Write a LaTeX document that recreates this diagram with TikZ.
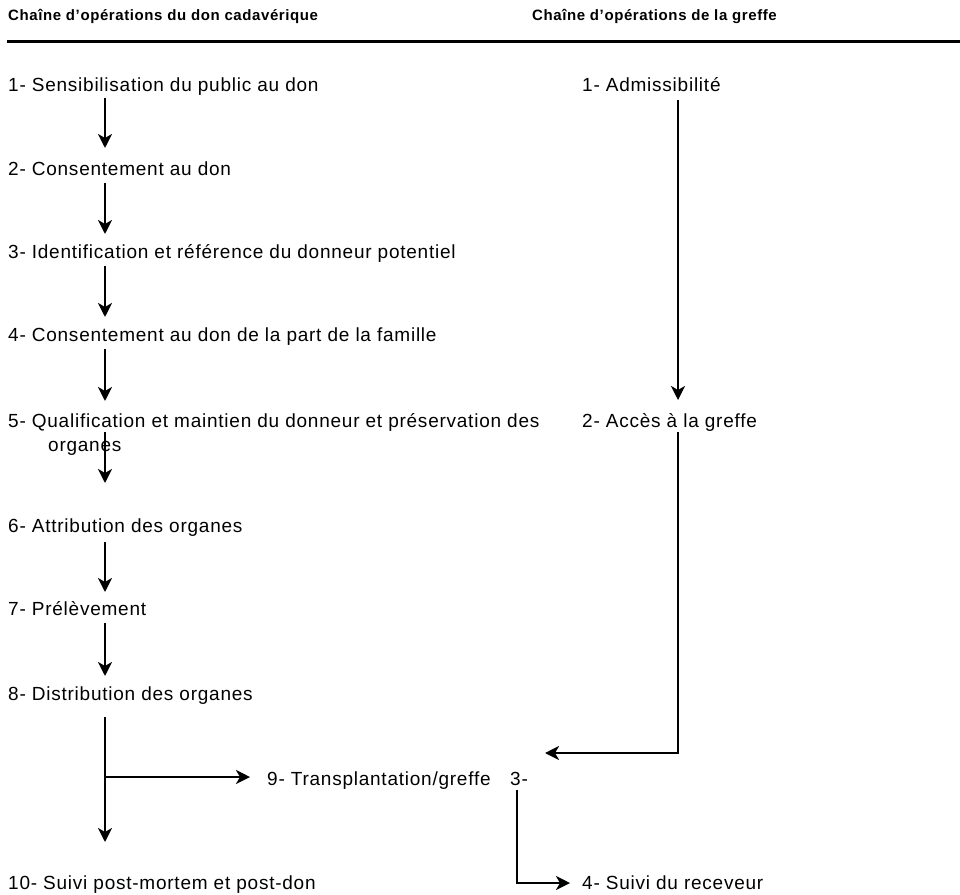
\documentclass[tikz,border=0pt]{standalone}
\usepackage{fontspec}
\setmainfont[LetterSpace=4]{Liberation Sans}
\usetikzlibrary{arrows.meta}
\begin{document}
\begin{tikzpicture}[x=1pt,y=-1pt,
  txt/.style={anchor=base west,inner sep=0pt,font=\fontsize{19}{22}\selectfont},
  hdr/.style={anchor=base west,inner sep=0pt,font=\fontsize{15}{18}\selectfont\bfseries},
  arr/.style={line width=2.5pt,-{Stealth[length=14pt,width=14pt,inset=4pt]}},
  ln/.style={line width=2.5pt}]
\useasboundingbox (0,0) rectangle (960,894);
\node[hdr] (h1) at (8,20) {Chaîne d’opérations du don cadavérique};
\node[hdr] (h2) at (532,20) {Chaîne d’opérations de la greffe};
\coordinate (hl) at (7,41);
\coordinate (hr) at (960,41);
\draw[line width=3pt] (hl) -- (hr);
% left column
\node[txt] (t1) at (8,91) {1- Sensibilisation du public au don};
\node[txt] (t2) at (8,175) {2- Consentement au don};
\node[txt] (t3) at (8,258) {3- Identification et référence du donneur potentiel};
\node[txt] (t4) at (8,341) {4- Consentement au don de la part de la famille};
\node[txt] (t5) at (8,427) {5- Qualification et maintien du donneur et préservation des};
\node[txt] (t5b) at (48,451) {organes};
\node[txt] (t6) at (8,532) {6- Attribution des organes};
\node[txt] (t7) at (8,615) {7- Prélèvement};
\node[txt] (t8) at (8,700) {8- Distribution des organes};
\node[txt] (t9) at (267,785) {9- Transplantation/greffe};
\node[txt] (r3) at (510,785) {3-};
\node[txt] (t10) at (8,889) {10- Suivi post-mortem et post-don};
% right column
\node[txt] (r1) at (582,91) {1- Admissibilité};
\node[txt] (r2) at (582,427) {2- Accès à la greffe};
\node[txt] (r4) at (582,889) {4- Suivi du receveur};
\coordinate (xl) at (105,0);
\coordinate (xr) at (678,0);
% left arrows
\draw[arr] ([yshift=-7pt]t1.base -| xl) -- ([yshift=27pt]t2.base -| xl);
\draw[arr] ([yshift=-8pt]t2.base -| xl) -- ([yshift=24pt]t3.base -| xl);
\draw[arr] ([yshift=-8pt]t3.base -| xl) -- ([yshift=24pt]t4.base -| xl);
\draw[arr] ([yshift=-8pt]t4.base -| xl) -- ([yshift=26pt]t5.base -| xl);
\draw[arr] ([yshift=-5pt]t5.base -| xl) -- ([yshift=49pt]t6.base -| xl);
\draw[arr] ([yshift=-10pt]t6.base -| xl) -- ([yshift=23pt]t7.base -| xl);
\draw[arr] ([yshift=-8pt]t7.base -| xl) -- ([yshift=24pt]t8.base -| xl);
\draw[arr] ([yshift=-17pt]t8.base -| xl) -- ([yshift=47pt]t10.base -| xl);
\coordinate (br) at (105,777);
\draw[arr] (br) -- ([xshift=-17pt]t9.west |- br);
% right arrows
\draw[arr] ([yshift=-9pt]r1.base -| xr) -- ([yshift=27pt]r2.base -| xr);
\coordinate (c9) at (545,753);
\draw[arr] ([yshift=-5pt]r2.base -| xr) |- (c9);
\draw[arr] ([xshift=7pt,yshift=-5pt]r3.base west) |- ([xshift=-12pt,yshift=6pt]r4.base west);
\end{tikzpicture}
\end{document}
